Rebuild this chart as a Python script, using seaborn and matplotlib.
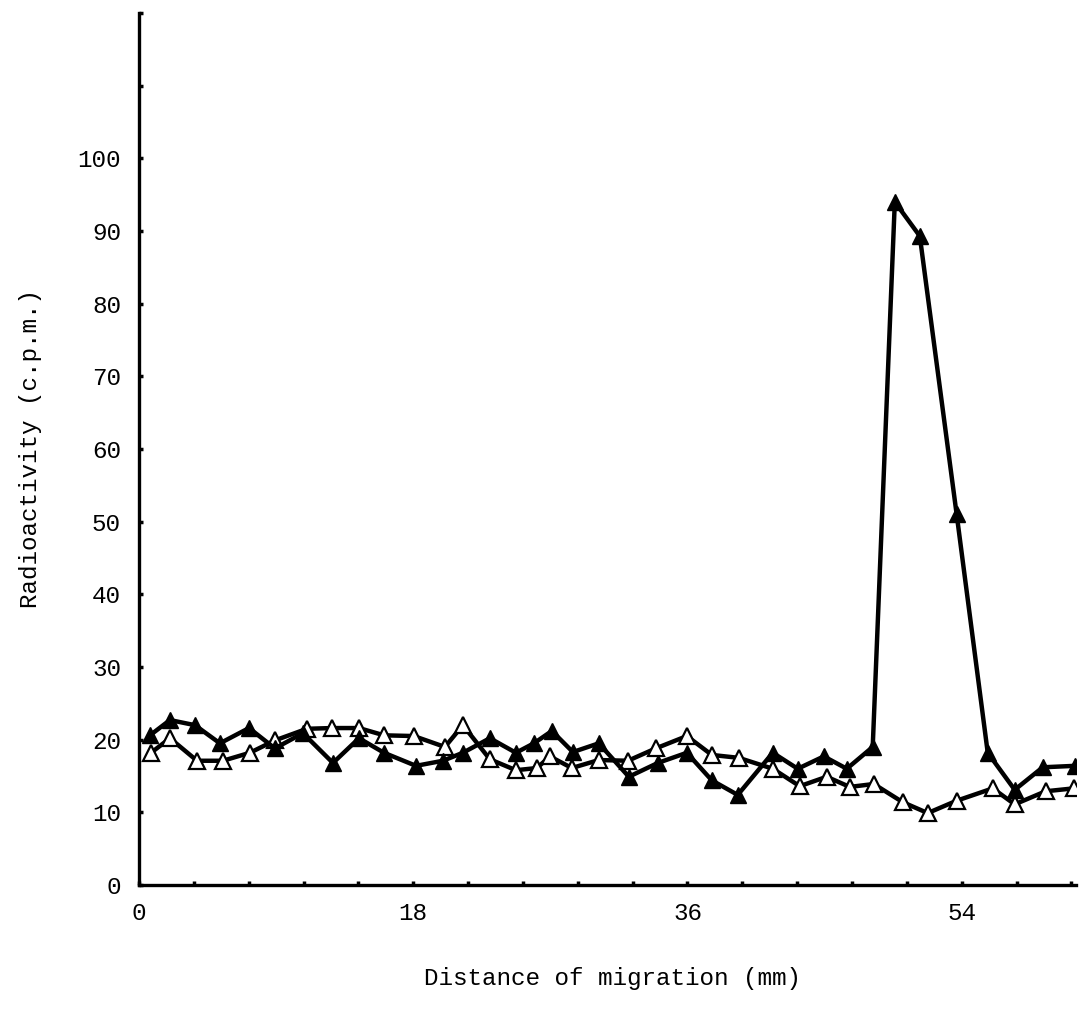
import pandas as pd
import seaborn as sns
import matplotlib.pyplot as plt

# Data (distance in mm, activity in c.p.m.)
dist_filled = [0.72, 2.03, 3.67, 5.31, 7.22, 8.92, 10.76, 12.73, 14.44, 16.08,
               18.18, 19.95, 21.26, 23.03, 24.74, 25.92, 27.10, 28.48, 30.18, 32.15,
               34.06, 35.96, 37.60, 39.30, 41.60, 43.24, 44.95, 46.46, 48.16, 49.61,
               51.25, 53.67, 55.71, 57.48, 59.32, 61.42]
cpm_filled = [20.6, 22.7, 22.0, 19.5, 21.6, 18.8, 20.9, 16.8, 20.2, 18.2,
              16.4, 17.1, 18.2, 20.2, 18.2, 19.5, 21.2, 18.3, 19.5, 14.9,
              16.8, 18.2, 14.4, 12.4, 18.2, 16.0, 17.7, 16.0, 19.0, 94.0,
              89.3, 51.0, 18.2, 13.1, 16.2, 16.4]

dist_open = [0.79, 2.03, 3.81, 5.51, 7.28, 8.92, 11.02, 12.66, 14.44, 16.08,
             18.04, 20.08, 21.26, 23.03, 24.74, 26.12, 26.97, 28.41, 30.18, 32.09,
             33.92, 35.96, 37.60, 39.37, 41.60, 43.37, 45.14, 46.65, 48.23, 50.13,
             51.77, 53.67, 56.04, 57.48, 59.51, 61.35]
cpm_open = [18.2, 20.2, 17.1, 17.1, 18.2, 19.9, 21.5, 21.6, 21.6, 20.6,
            20.5, 19.0, 22.0, 17.3, 15.8, 16.1, 17.7, 16.1, 17.2, 17.1,
            18.8, 20.5, 17.9, 17.5, 16.0, 13.6, 14.9, 13.5, 13.9, 11.4,
            9.9, 11.6, 13.3, 11.1, 12.9, 13.3]

x_ticks = [round(3.6 * i, 1) for i in range(18)]
x_labels = ['0', '18', '36', '54']
y_ticks = list(range(0, 121, 10))
y_labels = [str(v) for v in range(0, 101, 10)]

filled = pd.DataFrame({'dist': dist_filled, 'cpm': cpm_filled})
opened = pd.DataFrame({'dist': dist_open, 'cpm': cpm_open})

sns.set_style('white')
plt.rcParams['font.family'] = ['Liberation Mono', 'DejaVu Sans Mono']
plt.rcParams['text.color'] = 'black'
plt.rcParams['axes.labelcolor'] = 'black'

fig = plt.figure(figsize=(10.92, 10.14), dpi=100)
ax = fig.add_axes([0.1273, 0.1272, 0.858, 0.860])

sns.lineplot(data=opened, x='dist', y='cpm', sort=False, ax=ax, color='black',
             linewidth=3.2, marker='^', markersize=12, markerfacecolor='white',
             markeredgecolor='black', markeredgewidth=1.6)
sns.lineplot(data=filled, x='dist', y='cpm', sort=False, ax=ax, color='black',
             linewidth=3.2, marker='^', markersize=12, markerfacecolor='black',
             markeredgecolor='black', markeredgewidth=1.0)

ax.set_xlim(0, 61.5)
ax.set_ylim(0, 120)

ax.set_xticks(x_ticks)
ax.set_xticklabels([x_labels[i // 5] if i % 5 == 0 else '' for i in range(len(x_ticks))])
ax.set_yticks(y_ticks)
ax.set_yticklabels(y_labels + [''] * (len(y_ticks) - len(y_labels)))

ax.tick_params(axis='both', which='major', bottom=True, left=True,
               direction='in', length=3, width=2.5, colors='black',
               labelcolor='black', labelsize=17.5)
ax.tick_params(axis='y', pad=13)
ax.tick_params(axis='x', pad=12)

for side in ['top', 'right']:
    ax.spines[side].set_visible(False)
for side in ['left', 'bottom']:
    ax.spines[side].set_linewidth(2.4)
    ax.spines[side].set_color('black')

ax.set_xlabel('Distance of migration (mm)', fontsize=17.5, va='center')
ax.set_ylabel('Radioactivity (c.p.m.)', fontsize=17.5, va='center')
ax.xaxis.set_label_coords(0.505, -0.107)
ax.yaxis.set_label_coords(-0.116, 0.50)

plt.savefig('out.png', dpi=100)
